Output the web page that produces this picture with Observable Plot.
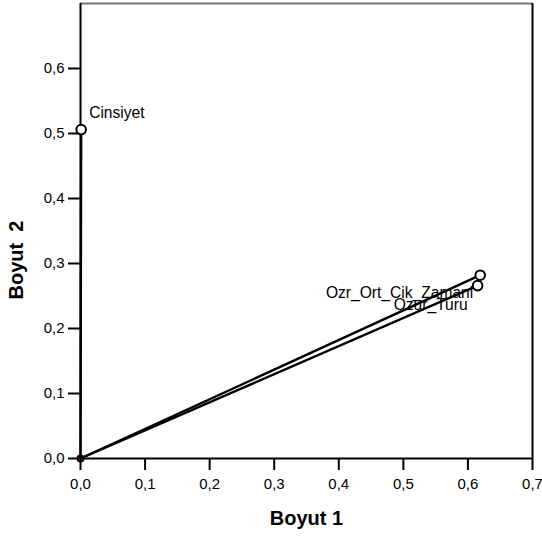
<!DOCTYPE html>
<html>
<head>
<meta charset="utf-8">
<script src="https://cdn.jsdelivr.net/npm/d3@7"></script>
<script src="https://cdn.jsdelivr.net/npm/@observablehq/plot@0.6"></script>
<style>
  html, body { margin: 0; padding: 0; background: #fff; }
  #chart svg { display: block; }
</style>
</head>
<body>
<div id="chart"></div>
<script>
const variables = ["Cinsiyet", "Ozr_Ort_Cik_Zamani", "Ozur_Turu"];
const dim1 = [0.001, 0.619, 0.615];
const dim2 = [0.506, 0.282, 0.266];
const xTicks = [0, 0.1, 0.2, 0.3, 0.4, 0.5, 0.6, 0.7];
const yTicks = [0, 0.1, 0.2, 0.3, 0.4, 0.5, 0.6];
const xTitle = "Boyut 1";
const yTitle = "Boyut\u00a0\u00a02";

const data = variables.map((v, i) => ({name: v, x: dim1[i], y: dim2[i]}));
const fmt = d => d3.format(".1f")(d).replace(".", ",");
const font = "Liberation Sans, Arial, Helvetica, sans-serif";

const labelOffsets = {
  "Cinsiyet": {dx: 8, dy: -17, anchor: "start"},
  "Ozr_Ort_Cik_Zamani": {dx: -7, dy: 18, anchor: "end"},
  "Ozur_Turu": {dx: -10, dy: 19, anchor: "end"}
};

const labelMarks = variables.map(v => Plot.text(data.filter(d => d.name === v), {
  x: "x", y: "y", text: "name",
  dx: labelOffsets[v].dx, dy: labelOffsets[v].dy,
  textAnchor: labelOffsets[v].anchor, lineAnchor: "middle",
  fontSize: 15.6, fill: "#000"
}));

const chart = Plot.plot({
  width: 542,
  height: 536,
  marginLeft: 80,
  marginRight: 10,
  marginTop: 3,
  marginBottom: 78,
  style: {fontFamily: font, fontSize: "15px", color: "#000", background: "#fff", overflow: "visible"},
  x: {domain: [0, 0.7], label: null},
  y: {domain: [0, 0.7], label: null},
  marks: [
    Plot.ruleY([0.7], {stroke: "#777", strokeWidth: 2}),
    Plot.ruleX([0.7], {stroke: "#000", strokeWidth: 2}),
    Plot.ruleX([0], {stroke: "#000", strokeWidth: 2}),
    Plot.ruleY([0], {stroke: "#000", strokeWidth: 2}),
    Plot.axisX(xTicks, {tickFormat: fmt, tickSize: 12, tickPadding: 8, strokeWidth: 2, fontSize: 15, label: null}),
    Plot.axisY(yTicks, {tickFormat: fmt, tickSize: 12, tickPadding: 4, strokeWidth: 2, fontSize: 15, label: null}),
    Plot.link(data, {x1: 0, y1: 0, x2: "x", y2: "y", stroke: "#000", strokeWidth: 2.4}),
    Plot.dot([{x: 0, y: 0}], {x: "x", y: "y", r: 3, stroke: "#000", strokeWidth: 2, fill: "none"}),
    Plot.dot(data, {x: "x", y: "y", r: 4.8, stroke: "#000", strokeWidth: 2, fill: "#fff"}),
    ...labelMarks,
    Plot.text([xTitle], {frameAnchor: "bottom", dy: 60, text: d => d, textAnchor: "middle", fontSize: 20, fontWeight: "bold", fill: "#000", lineAnchor: "middle"}),
    Plot.text([yTitle], {frameAnchor: "left", dx: -64, dy: 29, rotate: -90, text: d => d, textAnchor: "middle", fontSize: 20, fontWeight: "bold", fill: "#000", lineAnchor: "middle"})
  ]
});
document.getElementById("chart").appendChild(chart);
</script>
</body>
</html>
